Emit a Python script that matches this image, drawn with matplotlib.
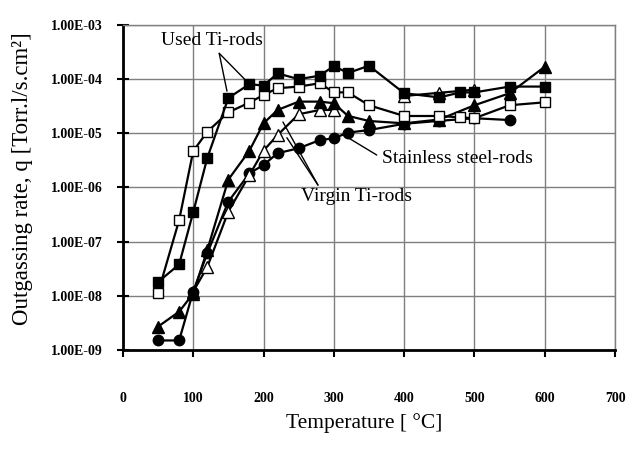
import matplotlib
matplotlib.use("Agg")
import matplotlib.pyplot as plt
import numpy as np
from matplotlib.ticker import FixedLocator, FuncFormatter, NullLocator

plt.rcParams['font.family'] = ['Liberation Serif', 'DejaVu Serif']

# Used Ti-rods (filled squares)
t_used_a = [50, 80, 100, 120, 150, 180, 200, 220, 250, 280, 300, 320, 350, 400, 450, 480, 500, 550, 600]
q_used_a = [1.8e-8, 3.8e-8, 3.5e-7, 3.5e-6, 4.5e-5, 8.1e-5, 7.6e-5, 1.28e-4, 1.0e-4, 1.16e-4,
            1.75e-4, 1.3e-4, 1.77e-4, 5.5e-5, 4.6e-5, 5.7e-5, 5.7e-5, 7.3e-5, 7.3e-5]
# Used Ti-rods (open squares)
t_used_b = [50, 80, 100, 120, 150, 180, 200, 220, 250, 280, 300, 320, 350, 400, 450, 480, 500, 550, 600]
q_used_b = [1.14e-8, 2.5e-7, 4.7e-6, 1.07e-5, 2.44e-5, 3.7e-5, 5.1e-5, 6.8e-5, 7.3e-5, 8.4e-5,
            5.7e-5, 5.7e-5, 3.3e-5, 2.09e-5, 2.09e-5, 1.97e-5, 1.9e-5, 3.3e-5, 3.74e-5]
# Virgin Ti-rods (filled triangles)
t_virgin_a = [50, 80, 100, 120, 150, 180, 200, 220, 250, 280, 300, 320, 350, 400, 450, 500, 550, 600]
q_virgin_a = [2.7e-9, 5.1e-9, 1.1e-8, 7.0e-8, 1.4e-6, 4.8e-6, 1.53e-5, 2.7e-5, 3.85e-5, 3.85e-5,
              3.6e-5, 2.1e-5, 1.69e-5, 1.53e-5, 1.8e-5, 3.3e-5, 5.5e-5, 1.7e-4]
# Virgin Ti-rods (open triangles)
t_virgin_b = [100, 120, 150, 180, 200, 220, 250, 280, 300, 350, 400, 450, 500]
q_virgin_b = [1.2e-8, 3.4e-8, 3.6e-7, 1.7e-6, 4.8e-6, 9.3e-6, 2.25e-5, 2.7e-5, 2.7e-5, np.nan,
              4.9e-5, 5.6e-5, 6.4e-5]
# Stainless steel-rods (filled circles)
t_steel = [50, 80, 100, 120, 150, 180, 200, 220, 250, 280, 300, 320, 350, 400, 450, 500, 550]
q_steel = [1.5e-9, 1.5e-9, 1.2e-8, 6.1e-8, 5.5e-7, 1.83e-6, 2.6e-6, 4.3e-6, 5.3e-6, 7.5e-6,
           8.1e-6, 1.03e-5, 1.15e-5, 1.5e-5, 1.7e-5, 1.9e-5, 1.76e-5]

x_ticks = [0, 100, 200, 300, 400, 500, 600, 700]
y_ticks = [1e-9, 1e-8, 1e-7, 1e-6, 1e-5, 1e-4, 1e-3]

fig = plt.figure(figsize=(6.27, 4.53), dpi=100)
ax = fig.add_axes([0.196, 0.2274, 0.785, 0.7174])

ms = 7.5
lw = 1.6
ax.plot(t_steel, q_steel, '-o', color='black', mfc='black', mec='black', ms=ms, lw=lw, zorder=3)
ax.plot(t_virgin_b, q_virgin_b, '-^', color='black', mfc='white', mec='black', ms=ms + 0.5, lw=lw, zorder=4)
ax.plot(t_virgin_a, q_virgin_a, '-^', color='black', mfc='black', mec='black', ms=ms + 0.5, lw=lw, zorder=5)
ax.plot(t_used_b, q_used_b, '-s', color='black', mfc='white', mec='black', ms=ms, lw=lw, zorder=6)
ax.plot(t_used_a, q_used_a, '-s', color='black', mfc='black', mec='black', ms=ms, lw=lw, zorder=7)

ax.set_yscale('log')
ax.set_xlim(0, 700)
ax.set_ylim(1e-9, 1e-3)
ax.xaxis.set_major_locator(FixedLocator(x_ticks))
ax.yaxis.set_major_locator(FixedLocator(y_ticks))
ax.yaxis.set_minor_locator(NullLocator())
ax.yaxis.set_major_formatter(FuncFormatter(lambda v, p: "1.00E-%02d" % (-int(round(np.log10(v))))))

ax.grid(True, color='#7f7f7f', lw=1.0, zorder=0)
ax.set_axisbelow(True)
for s in ['top', 'right']:
    ax.spines[s].set_color('#7f7f7f')
    ax.spines[s].set_linewidth(1.0)
for s in ['left', 'bottom']:
    ax.spines[s].set_color('black')
    ax.spines[s].set_linewidth(2.0)

ax.tick_params(axis='y', direction='inout', length=9, width=1.5, pad=10)
ax.tick_params(axis='x', direction='out', length=5, width=1.5, pad=25)
for lab in ax.get_xticklabels() + ax.get_yticklabels():
    lab.set_fontweight('bold')
    lab.set_fontsize(10)

ax.set_xlabel('Temperature [ °C]', fontsize=15.5)
ax.xaxis.set_label_coords(0.49, -0.195)
ax.set_ylabel('Outgassing rate, q [Torr.l/s.cm²]', fontsize=16.5)
ax.yaxis.set_label_coords(-0.183, 0.526)

# annotations with leader lines
lead = dict(arrowstyle='-', color='black', lw=1.0, shrinkA=0, shrinkB=0)
ax.text(54, 5.1e-4, 'Used Ti-rods', fontsize=14, va='center', ha='left', zorder=10)
ax.annotate('', xy=(t_used_a[5], q_used_a[5]), xytext=(137, 3.0e-4), arrowprops=dict(lead, shrinkB=5), zorder=10)
ax.annotate('', xy=(t_used_a[4], q_used_a[4]), xytext=(137, 3.0e-4), arrowprops=dict(lead, shrinkB=5), zorder=10)

ax.text(253, 6.7e-7, 'Virgin Ti-rods', fontsize=14, va='center', ha='left', zorder=10)
ax.annotate('', xy=(227.6, 1.62e-5), xytext=(277.4, 1.11e-6), arrowprops=lead, zorder=10)
ax.annotate('', xy=(233.2, 8.3e-6), xytext=(277.4, 1.11e-6), arrowprops=lead, zorder=10)

ax.text(368, 3.36e-6, 'Stainless steel-rods', fontsize=14, va='center', ha='left', zorder=10)
ax.annotate('', xy=(318.7, 8.55e-6), xytext=(361, 3.98e-6), arrowprops=lead, zorder=10)

fig.savefig('out.png', dpi=100)
